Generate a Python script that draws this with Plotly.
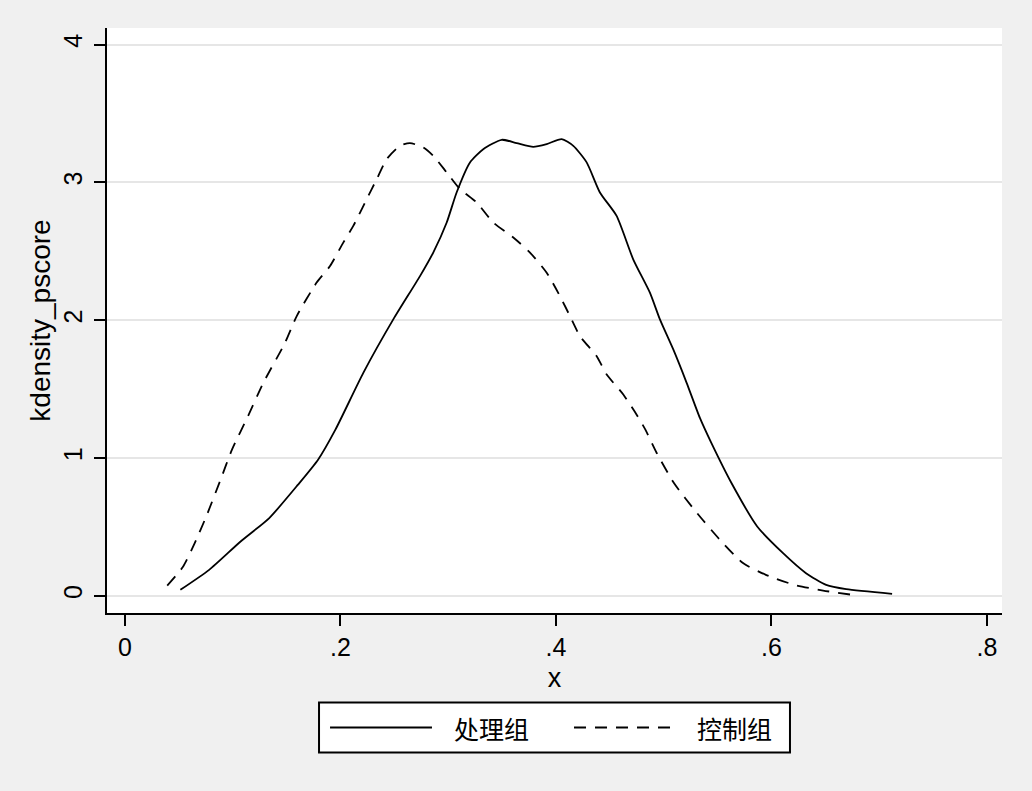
import plotly.graph_objects as go

# Treatment group (solid) kernel density
treat_x = [0.0514, 0.0781, 0.1073, 0.1339, 0.1606, 0.1792, 0.1953, 0.2212, 0.249, 0.2738,
           0.2861, 0.2986, 0.3078, 0.3202, 0.3325, 0.3496, 0.3635, 0.3789, 0.3914, 0.4053,
           0.4161, 0.4285, 0.4408, 0.4563, 0.4717, 0.4872, 0.4965, 0.5089, 0.5213, 0.5336,
           0.5442, 0.5629, 0.5868, 0.6108, 0.6321, 0.6508, 0.6694, 0.712]
treat_y = [0.044, 0.189, 0.395, 0.565, 0.807, 0.988, 1.206, 1.618, 2.006, 2.320,
           2.491, 2.709, 2.927, 3.145, 3.241, 3.309, 3.285, 3.258, 3.278, 3.314,
           3.265, 3.145, 2.927, 2.757, 2.442, 2.200, 2.006, 1.788, 1.546, 1.291,
           1.110, 0.819, 0.504, 0.310, 0.165, 0.080, 0.049, 0.015]

# Control group (dashed) kernel density
ctrl_x = [0.0392, 0.054, 0.0647, 0.0754, 0.0887, 0.0993, 0.1144, 0.1284, 0.1485, 0.1594,
          0.1779, 0.1903, 0.2026, 0.2119, 0.2243, 0.2336, 0.2429, 0.2552, 0.2645, 0.2768,
          0.2861, 0.2986, 0.3109, 0.3264, 0.3418, 0.3604, 0.3759, 0.3914, 0.4037, 0.413,
          0.4223, 0.4378, 0.4471, 0.4625, 0.4749, 0.483, 0.4935, 0.5095, 0.5309, 0.5522,
          0.5736, 0.5948, 0.6214, 0.648, 0.6758]
ctrl_y = [0.075, 0.213, 0.383, 0.576, 0.843, 1.061, 1.308, 1.546, 1.836, 2.030,
          2.273, 2.393, 2.563, 2.684, 2.878, 3.023, 3.169, 3.265, 3.285, 3.254,
          3.193, 3.072, 2.951, 2.854, 2.709, 2.600, 2.491, 2.345, 2.175, 2.030,
          1.884, 1.739, 1.606, 1.461, 1.315, 1.206, 1.037, 0.819, 0.601, 0.407,
          0.238, 0.153, 0.080, 0.039, 0.007]

series_names = ["处理组", "控制组"]
x_ticks = [0, 0.2, 0.4, 0.6, 0.8]
x_tick_labels = ["0", ".2", ".4", ".6", ".8"]
y_ticks = [0, 1, 2, 3, 4]
y_tick_labels = ["0", "1", "2", "3", "4"]

FONT = "Liberation Sans, Arial, sans-serif"
CJK = "Noto Sans CJK SC, sans-serif"

fig = go.Figure()
fig.add_trace(go.Scatter(x=treat_x, y=treat_y, mode="lines", name=series_names[0],
                         line=dict(color="black", width=1.8, shape="spline", smoothing=0.6)))
fig.add_trace(go.Scatter(x=ctrl_x, y=ctrl_y, mode="lines", name=series_names[1],
                         line=dict(color="black", width=1.8, dash="12px,9px",
                                   shape="spline", smoothing=0.6)))

fig.update_layout(
    width=1032, height=791,
    margin=dict(l=107, r=30, t=28, b=178),
    paper_bgcolor="#f0f0f0",
    plot_bgcolor="white",
    showlegend=False,
    font=dict(family=FONT, color="black"),
)
fig.update_xaxes(
    range=[-0.0167, 0.814], tickvals=x_ticks, ticktext=x_tick_labels,
    showline=True, linecolor="black", linewidth=2, mirror=False,
    ticks="outside", ticklen=11, tickwidth=2, tickcolor="black",
    showgrid=False, zeroline=False,
    tickfont=dict(size=25, family=FONT),
    title=dict(text="x", font=dict(size=27, family=FONT), standoff=8),
)
fig.update_yaxes(
    range=[-0.124, 4.12], tickvals=y_ticks, ticktext=y_tick_labels, tickangle=-90,
    showline=True, linecolor="black", linewidth=2, mirror=False,
    ticks="outside", ticklen=11, tickwidth=2, tickcolor="black",
    showgrid=True, gridcolor="#e6e6e6", gridwidth=2, zeroline=False,
    tickfont=dict(size=25, family=FONT), ticklabelstandoff=2,
    title=dict(text="kdensity_pscore", font=dict(size=28, family=FONT), standoff=0),
)

# Manual legend box (Stata style) below the plot
lx0, lx1 = 0.2369, 0.7631
ly0, ly1 = -0.2385, -0.153
ly = (ly0 + ly1) / 2
fig.add_shape(type="rect", xref="paper", yref="paper", x0=lx0, x1=lx1, y0=ly0, y1=ly1,
              line=dict(color="black", width=2), fillcolor="white", layer="above")
fig.add_shape(type="line", xref="paper", yref="paper", x0=0.2492, x1=0.3631, y0=ly, y1=ly,
              line=dict(color="black", width=1.8))
fig.add_shape(type="line", xref="paper", yref="paper", x0=0.5218, x1=0.6369, y0=ly, y1=ly,
              line=dict(color="black", width=1.8, dash="12px,9px"))
fig.add_annotation(xref="paper", yref="paper", x=0.3855, y=ly, text=series_names[0],
                   showarrow=False, xanchor="left", yanchor="middle",
                   font=dict(size=25, family=CJK, color="black"))
fig.add_annotation(xref="paper", yref="paper", x=0.657, y=ly, text=series_names[1],
                   showarrow=False, xanchor="left", yanchor="middle",
                   font=dict(size=25, family=CJK, color="black"))

fig.write_html("out.html", config={"displayModeBar": False},
               post_script="document.body.style.margin='0';")
